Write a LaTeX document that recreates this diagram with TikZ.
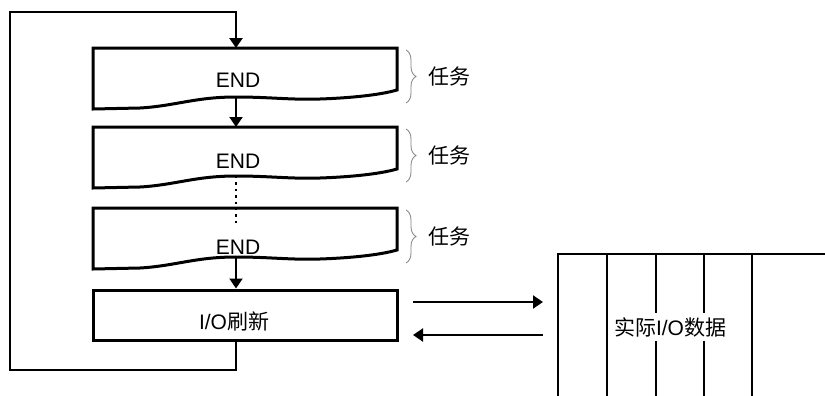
\documentclass[tikz,border=0pt]{standalone}
\usepackage{fontspec}
\setmainfont{Liberation Sans}
\newfontfamily\cjk{Noto Sans CJK SC}
\usetikzlibrary{arrows.meta,decorations.pathreplacing}

\begin{document}
\begin{tikzpicture}[
            x=0.5pt,y=-0.5pt,
            every node/.style={
                inner sep=1pt,
                font=\fontsize{10.5}{12}\selectfont
            },
            box/.style={draw,line width=1.5pt,line join=miter},
            flow/.style={-{Triangle[width=6.5pt,length=5pt]},line width=1pt},
            loopline/.style={line width=1.4pt,line join=miter},
            task/.style={decorate,decoration={brace,amplitude=5pt},gray,thin}
        ]
    \useasboundingbox (0,0) rectangle (825,396);
    % Tasks
    \foreach\i/\y/\t in {1/48/32,2/127/34,3/208/39}{
        \draw[box] (236,\y+49)
            .. controls (270,\y+49) and (290,\y+52) .. (320,\y+51)
            .. controls (350,\y+50) and (380,\y+47) .. (397,\y+42)
            -- (397,\y) -- (93,\y) -- (93,\y+61) -- (140,\y+60)
            .. controls (175,\y+58) and (195,\y+49) .. (236,\y+49);
        \coordinate (t\i-top) at (236,\y);
        \coordinate (t\i-bot) at (236,\y+49);
        \node (end\i) at (238,\y+\t) {END};
        \draw[task] (406,\y+2) -- (406,\y+55);
        \node[anchor=west] (job\i) at (426,\y+29) {\cjk 任务};
    }
    % I/O refresh
        \node[box,minimum width=152pt,minimum height=25pt,inner sep=0pt] (io) at (245,315) {};
        \node (io-label) at (234,321) {I/O{\cjk 刷新}};
    % Flow
        \coordinate (dots-end) at (236,226);
        \draw[dotted,line width=1.2pt] (t2-bot) -- (dots-end);
        \draw[flow] (t1-bot) -- (t2-top);
        \draw[flow] (t3-bot) -- (io.north -| t3-bot);
        \coordinate (loop-bl) at (10,370);
        \coordinate (loop-tl) at (10,12);
        \draw[flow,loopline] (io.south -| t1-top) |- (loop-bl) -- (loop-tl) -| (t1-top);
    % Data
        \draw[line width=0.8pt] (558,396) -- (558,254) -- (825,254);
    \foreach\x in {607,656,704,752}{
        \draw[line width=1.4pt] (\x,254) -- (\x,396);
    }
        \node[fill=white,inner sep=2pt] (data) at (670,327) {{\cjk 实际}I/O{\cjk 数据}};
        \coordinate (send-a) at (413,302);
        \coordinate (send-b) at (543,302);
        \coordinate (recv-a) at (543,335);
        \coordinate (recv-b) at (413,335);
        \draw[flow] (send-a) -- (send-b);
        \draw[flow] (recv-a) -- (recv-b);
\end{tikzpicture}
\end{document}
